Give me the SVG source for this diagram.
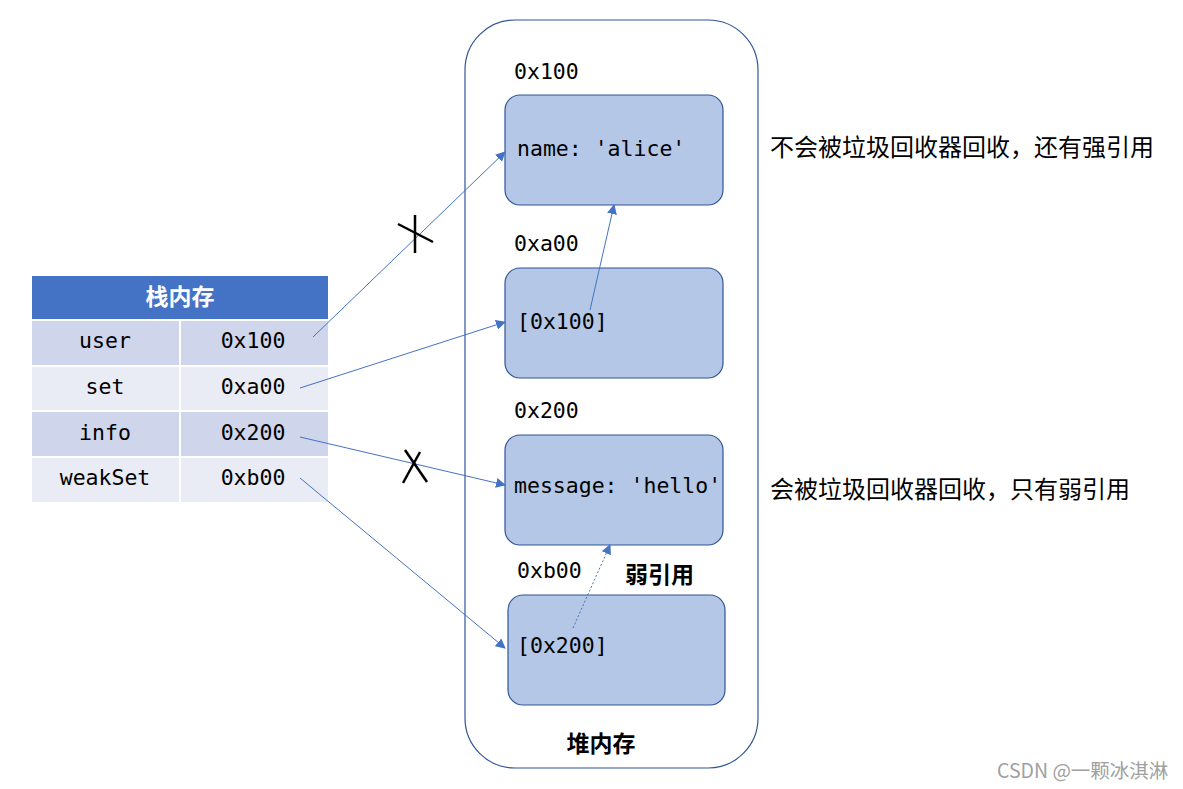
<svg xmlns="http://www.w3.org/2000/svg" width="1183" height="789" viewBox="0 0 1183 789">
<style>
.mono{font-family:"DejaVu Sans Mono","Liberation Mono",monospace;font-size:21.5px;fill:#000}
.cjk{font-family:"Noto Sans CJK SC","Noto Sans",sans-serif;fill:#000}
.box{fill:#B4C7E7;stroke:#2F5597;stroke-width:1.2}
.conn{stroke:#4472C4;stroke-width:1;fill:none}
.xmark{stroke:#000;stroke-width:2.5;fill:none}
</style>
<defs>
<marker id="ah" viewBox="0 0 10 10" refX="9" refY="5" markerWidth="10" markerHeight="10" markerUnits="userSpaceOnUse" orient="auto">
<path d="M0,0 L10,5 L0,10 z" fill="#4472C4"/>
</marker>
</defs>
<rect width="1183" height="789" fill="#fff"/>

<g id="stack">
<rect x="32" y="276" width="296" height="43" fill="#4472C4"/>
<text x="180" y="305" class="cjk" font-size="23" font-weight="bold" text-anchor="middle" style="fill:#fff">栈内存</text>
<rect x="32" y="321" width="147" height="44" fill="#CFD5EA"/>
<rect x="181" y="321" width="147" height="44" fill="#CFD5EA"/>
<rect x="32" y="367" width="147" height="43" fill="#E9EBF5"/>
<rect x="181" y="367" width="147" height="43" fill="#E9EBF5"/>
<rect x="32" y="412" width="147" height="44" fill="#CFD5EA"/>
<rect x="181" y="412" width="147" height="44" fill="#CFD5EA"/>
<rect x="32" y="458" width="147" height="44" fill="#E9EBF5"/>
<rect x="181" y="458" width="147" height="44" fill="#E9EBF5"/>
<text class="mono" x="105" y="348" text-anchor="middle">user</text>
<text class="mono" x="253" y="348" text-anchor="middle">0x100</text>
<text class="mono" x="105" y="394" text-anchor="middle">set</text>
<text class="mono" x="253" y="394" text-anchor="middle">0xa00</text>
<text class="mono" x="105" y="440" text-anchor="middle">info</text>
<text class="mono" x="253" y="440" text-anchor="middle">0x200</text>
<text class="mono" x="105" y="485" text-anchor="middle">weakSet</text>
<text class="mono" x="253" y="485" text-anchor="middle">0xb00</text>
</g>

<g id="heap">
<rect x="465" y="20" width="293" height="748" rx="50" ry="50" fill="#fff" stroke="#2F5597" stroke-width="1.2"/>
<text x="601" y="752" class="cjk" font-size="23" font-weight="bold" text-anchor="middle">堆内存</text>
</g>

<g id="obj1">
<text class="mono" x="514" y="79">0x100</text>
<rect class="box" x="505" y="95" width="218" height="110" rx="15"/>
<text class="mono" x="517" y="156">name: 'alice'</text>
</g>
<g id="obj2">
<text class="mono" x="514" y="251">0xa00</text>
<rect class="box" x="505" y="268" width="218" height="110" rx="15"/>
<text class="mono" x="517" y="329">[0x100]</text>
</g>
<g id="obj3">
<text class="mono" x="514" y="418">0x200</text>
<rect class="box" x="505" y="435" width="218" height="110" rx="15"/>
<text class="mono" x="514" y="493">message: 'hello'</text>
</g>
<g id="obj4">
<text class="mono" x="517" y="578">0xb00</text>
<rect class="box" x="508" y="595" width="217" height="110" rx="15"/>
<text class="mono" x="517" y="653">[0x200]</text>
</g>
<g id="weaklabel">
<text x="625" y="583" class="cjk" font-size="23" font-weight="bold">弱引用</text>
</g>

<g id="notes">
<text x="770" y="156" class="cjk" font-size="24">不会被垃圾回收器回收，还有强引用</text>
<text x="770" y="498" class="cjk" font-size="24">会被垃圾回收器回收，只有弱引用</text>
</g>

<g id="connectors">
<line class="conn" x1="313" y1="337" x2="505" y2="152" marker-end="url(#ah)"/>
<line class="conn" x1="300" y1="388" x2="505" y2="322" marker-end="url(#ah)"/>
<line class="conn" x1="300" y1="437" x2="505" y2="485" marker-end="url(#ah)"/>
<line class="conn" x1="300" y1="478" x2="505" y2="648" marker-end="url(#ah)"/>
<line class="conn" x1="590" y1="310" x2="614" y2="205" marker-end="url(#ah)"/>
<line class="conn" x1="573" y1="628" x2="610" y2="545" stroke-dasharray="2,2" marker-end="url(#ah)"/>
</g>

<g id="crosses">
<line class="xmark" x1="415" y1="215" x2="415" y2="253"/>
<line class="xmark" x1="398" y1="224" x2="433" y2="242"/>
<line class="xmark" x1="405" y1="450" x2="427" y2="482"/>
<line class="xmark" x1="420" y1="452" x2="403" y2="483"/>
</g>

<text x="997" y="778" font-family="'Noto Sans CJK SC','Noto Sans',sans-serif" font-size="19.5" fill="#A0A0A0">CSDN @一颗冰淇淋</text>
</svg>
